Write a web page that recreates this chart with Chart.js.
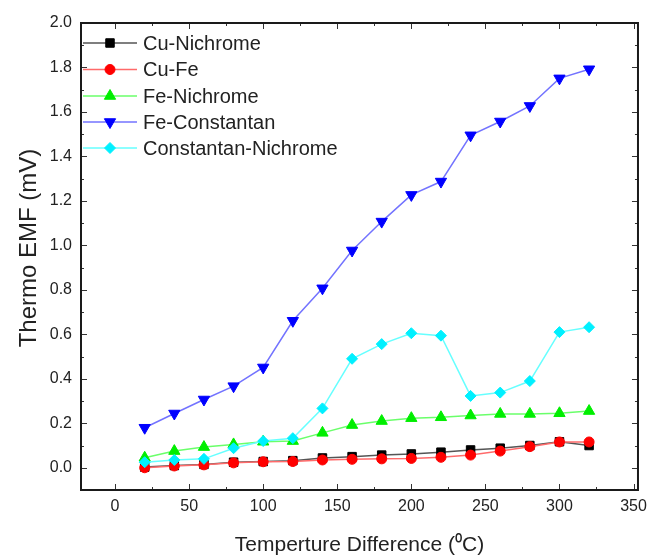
<!DOCTYPE html>
<html>
<head>
<meta charset="utf-8">
<script src="https://cdn.jsdelivr.net/npm/chart.js@4.4.1/dist/chart.umd.min.js"></script>
<style>
  html, body { margin: 0; padding: 0; background: #fff; }
  #wrap { width: 654px; height: 556px; }
</style>
</head>
<body>
<div id="wrap"><canvas id="emfChart" width="654" height="556"></canvas></div>
<script>
// data
const temps = [20, 40, 60, 80, 100, 120, 140, 160, 180, 200, 220, 240, 260, 280, 300, 320];
const cuNichrome = [0.003, 0.01, 0.015, 0.025, 0.028, 0.032, 0.044, 0.05, 0.057, 0.062, 0.07, 0.08, 0.088, 0.10, 0.117, 0.10];
const cuFe = [0.0, 0.008, 0.013, 0.022, 0.027, 0.028, 0.035, 0.038, 0.04, 0.042, 0.047, 0.057, 0.075, 0.095, 0.116, 0.116];
const feNichrome = [0.045, 0.075, 0.093, 0.105, 0.117, 0.12, 0.157, 0.192, 0.21, 0.223, 0.227, 0.235, 0.242, 0.242, 0.245, 0.255];
const feConstantan = [0.18, 0.244, 0.307, 0.367, 0.451, 0.661, 0.807, 0.977, 1.107, 1.227, 1.287, 1.495, 1.557, 1.627, 1.751, 1.792];
const constNichrome = [0.025, 0.035, 0.04, 0.088, 0.12, 0.133, 0.267, 0.49, 0.556, 0.605, 0.594, 0.323, 0.338, 0.39, 0.61, 0.632];

const xTicks = [0, 50, 100, 150, 200, 250, 300, 350];
const yTicks = [0.0, 0.2, 0.4, 0.6, 0.8, 1.0, 1.2, 1.4, 1.6, 1.8, 2.0];

const FONT = "'Liberation Sans', Arial, sans-serif";

function series(label, values, marker, rot, radius, color, lineColor, order) {
  return {
    label: label,
    data: values.map((v, i) => ({ x: temps[i], y: v })),
    order: order,
    borderColor: lineColor,
    borderWidth: 1.5,
    backgroundColor: color,
    pointStyle: marker,
    pointRotation: rot,
    pointRadius: radius,
    pointHoverRadius: radius,
    pointBackgroundColor: color,
    pointBorderColor: color,
    pointBorderWidth: 1,
    tension: 0
  };
}

// later series sit on top, like the original plot
const datasets = [
  series('Cu-Nichrome', cuNichrome, 'rect', 0, 6, '#000000', '#555555', 5),
  series('Cu-Fe', cuFe, 'circle', 0, 5, '#ff0000', '#ff6a6a', 4),
  series('Fe-Nichrome', feNichrome, 'triangle', 0, 6.5, '#00ee00', '#6aff6a', 3),
  series('Fe-Constantan', feConstantan, 'triangle', 180, 6.5, '#0000ff', '#7373ff', 2),
  series('Constantan-Nichrome', constNichrome, 'rectRot', 0, 5.5, '#00f0ff', '#66ffff', 1)
];

// frame, inward ticks, y title and the inset legend
const framePlugin = {
  id: 'frame',
  afterDatasetsDraw(chart) {
    const ctx = chart.ctx;
    const a = chart.chartArea;
    const xs = chart.scales.x, ys = chart.scales.y;
    ctx.save();
    ctx.strokeStyle = '#333';
    ctx.lineWidth = 1;
    for (let v = -25; v <= 350; v += 25) {
      const px = Math.round(xs.getPixelForValue(v)) + 0.5;
      if (px < a.left || px > a.right) continue;
      const len = v % 50 === 0 ? 6 : 3;
      ctx.beginPath();
      ctx.moveTo(px, a.bottom); ctx.lineTo(px, a.bottom - len);
      ctx.moveTo(px, a.top); ctx.lineTo(px, a.top + len);
      ctx.stroke();
    }
    for (let k = -1; k <= 20; k++) {
      const py = Math.round(ys.getPixelForValue(k / 10)) + 0.5;
      if (py < a.top || py > a.bottom) continue;
      const len = k % 2 === 0 ? 6 : 3;
      ctx.beginPath();
      ctx.moveTo(a.left, py); ctx.lineTo(a.left + len, py);
      ctx.moveTo(a.right, py); ctx.lineTo(a.right - len, py);
      ctx.stroke();
    }
    ctx.strokeStyle = '#1a1a1a';
    ctx.lineWidth = 2;
    ctx.strokeRect(a.left, a.top, a.right - a.left, a.bottom - a.top);

    // y axis title
    ctx.save();
    ctx.translate(29, 248);
    ctx.rotate(-Math.PI / 2);
    ctx.font = '24px ' + FONT;
    ctx.fillStyle = '#222';
    ctx.textAlign = 'center';
    ctx.textBaseline = 'middle';
    ctx.fillText('Thermo EMF (mV)', 0, 0);
    ctx.restore();

    // legend
    const rowY = [43, 69.5, 96, 122, 148];
    ctx.font = '20px ' + FONT;
    ctx.textBaseline = 'middle';
    ctx.textAlign = 'left';
    chart.data.datasets.forEach((ds, i) => {
      const y = rowY[i];
      ctx.strokeStyle = ds.borderColor;
      ctx.lineWidth = 1.5;
      ctx.beginPath();
      ctx.moveTo(83, y); ctx.lineTo(137, y);
      ctx.stroke();
      ctx.fillStyle = ds.pointBackgroundColor;
      ctx.strokeStyle = ds.pointBorderColor;
      ctx.lineWidth = 1;
      Chart.helpers.drawPoint(ctx, {
        pointStyle: ds.pointStyle,
        rotation: ds.pointRotation,
        radius: ds.pointRadius,
        borderWidth: 1
      }, 110, y);
      ctx.fillStyle = '#222';
      ctx.fillText(ds.label, 143, y + 1);
    });
    ctx.restore();
  }
};

new Chart(document.getElementById('emfChart'), {
  type: 'line',
  data: { datasets: datasets },
  options: {
    responsive: false,
    animation: false,
    events: [],
    layout: { padding: { left: 0, right: 15, top: 23, bottom: 0 } },
    plugins: {
      legend: { display: false },
      tooltip: { enabled: false }
    },
    scales: {
      x: {
        type: 'linear',
        min: -23,
        max: 353,
        grid: { display: false, drawTicks: false },
        border: { display: false },
        afterBuildTicks: (scale) => { scale.ticks = xTicks.map(v => ({ value: v })); },
        afterFit: (scale) => { scale.height = 66; },
        ticks: {
          padding: 7,
          color: '#222',
          font: { family: FONT, size: 16 },
          callback: (v) => String(v)
        },
        title: {
          display: true,
          text: 'Temperture Difference (\u2070C)',
          color: '#222',
          padding: 0,
          font: { family: FONT, size: 21, lineHeight: 1 }
        }
      },
      y: {
        type: 'linear',
        min: -0.1,
        max: 2.0,
        grid: { display: false, drawTicks: false },
        border: { display: false },
        afterBuildTicks: (scale) => { scale.ticks = yTicks.map(v => ({ value: v })); },
        afterFit: (scale) => { scale.width = 81; },
        ticks: {
          padding: 9,
          color: '#222',
          font: { family: FONT, size: 16 },
          callback: (v) => Number(v).toFixed(1)
        }
      }
    }
  },
  plugins: [framePlugin]
});
</script>
</body>
</html>
